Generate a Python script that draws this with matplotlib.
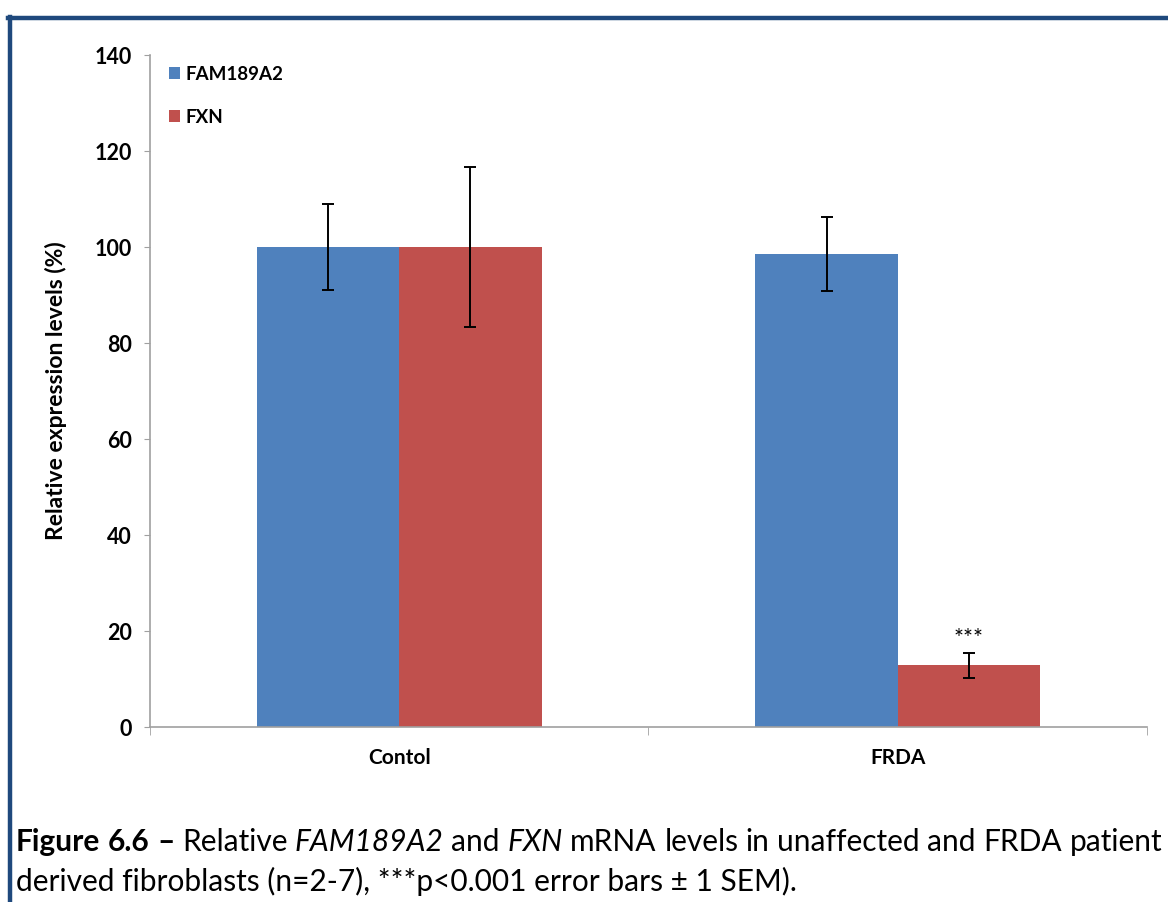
import matplotlib
matplotlib.use("Agg")
import matplotlib.pyplot as plt
from matplotlib.patches import Patch
from matplotlib.lines import Line2D
import numpy as np

# Data
categories = ["Contol", "FRDA"]
series_names = ["FAM189A2", "FXN"]
fam_values = [100.0, 98.5]
fam_sem = [9.0, 7.7]
fxn_values = [100.0, 12.9]
fxn_sem = [16.6, 2.6]
y_ticks = [0, 20, 40, 60, 80, 100, 120, 140]

BLUE = "#4F81BD"
RED = "#C0504D"
FRAME = "#1F497D"
FONT = ["Lato", "DejaVu Sans"]

plt.rcParams["font.family"] = FONT

fig = plt.figure(figsize=(11.68, 9.02), dpi=100)
ax = fig.add_axes([0.1284, 0.194, 0.982 - 0.1284, 0.939 - 0.194])

x = np.arange(len(categories))
w = 1 / 1.75 / 2
ax.bar(x - w / 2, fam_values, width=w, color=BLUE, edgecolor="none", zorder=2)
ax.bar(x + w / 2, fxn_values, width=w, color=RED, edgecolor="none", zorder=2)
ax.errorbar(x - w / 2, fam_values, yerr=fam_sem, fmt="none", ecolor="black",
            elinewidth=1.4, capsize=4.5, capthick=1.4, zorder=3)
ax.errorbar(x + w / 2, fxn_values, yerr=fxn_sem, fmt="none", ecolor="black",
            elinewidth=1.4, capsize=4.5, capthick=1.4, zorder=3)

# significance marker above the FRDA FXN bar
ax.text(x[1] + w / 2, fxn_values[1] + fxn_sem[1] + 3.0, "***",
        ha="center", va="center", fontsize=17)

ax.set_xlim(-0.5, 1.5)
ax.set_ylim(0, 140)
ax.set_yticks(y_ticks)
ax.set_yticklabels([str(t) for t in y_ticks], fontweight="bold", fontsize=15.5)
ax.set_xticks(x)
ax.set_xticklabels(categories, fontweight="bold", fontsize=15)
ax.tick_params(axis="x", length=0, pad=15)
ax.tick_params(axis="y", length=4, color="#A0A0A0", direction="out", pad=9)
# category boundary ticks on x axis
ax.set_xticks([-0.5, 0.5, 1.5], minor=True)
ax.tick_params(axis="x", which="minor", length=6, color="#A0A0A0", direction="out")

for side in ["top", "right"]:
    ax.spines[side].set_visible(False)
for side in ["left", "bottom"]:
    ax.spines[side].set_color("#A0A0A0")
    ax.spines[side].set_linewidth(1.2)

ax.set_ylabel("Relative expression levels (%)", fontweight="bold", fontsize=16.5,
              labelpad=20)

handles = [Patch(facecolor=BLUE, edgecolor="none"), Patch(facecolor=RED, edgecolor="none")]
leg = ax.legend(handles, series_names, loc="upper left", bbox_to_anchor=(0.0, 1.012),
                frameon=False, handlelength=0.62, handleheight=0.62, handletextpad=0.25,
                labelspacing=1.4, prop={"weight": "bold", "size": 13.5}, borderaxespad=0.6)

# frame lines around the figure block
fig.add_artist(Line2D([8 / 1168, 1.0], [1 - 18 / 902, 1 - 18 / 902], color=FRAME,
                      linewidth=3.2, transform=fig.transFigure))
fig.add_artist(Line2D([10 / 1168, 10 / 1168], [1 - 17 / 902, 0.0], color=FRAME,
                      linewidth=3.2, transform=fig.transFigure))

# caption, first line justified across the width
fig.canvas.draw()
renderer = fig.canvas.get_renderer()
cap_size = 21.5
line1 = [("Figure", "bold", "normal"), ("6.6", "bold", "normal"), ("\u2013", "bold", "normal"),
         ("Relative", "normal", "normal"), ("FAM189A2", "normal", "italic"),
         ("and", "normal", "normal"), ("FXN", "normal", "italic"), ("mRNA", "normal", "normal"),
         ("levels", "normal", "normal"), ("in", "normal", "normal"),
         ("unaffected", "normal", "normal"), ("and", "normal", "normal"),
         ("FRDA", "normal", "normal"), ("patient", "normal", "normal")]
x_left, x_right = 16 / 1168, 1162 / 1168
y1 = 1 - 842 / 902
texts = []
widths = []
for word, weight, style in line1:
    t = fig.text(0, y1, word, fontsize=cap_size, fontweight=weight, fontstyle=style,
                 va="center", ha="left")
    bb = t.get_window_extent(renderer)
    texts.append(t)
    widths.append(bb.width / fig.bbox.width)
gap = max((x_right - x_left - sum(widths)) / (len(texts) - 1), 2 / 1168)
pos = x_left
for t, wd in zip(texts, widths):
    t.set_x(pos)
    pos += wd + gap

fig.text(x_left, 1 - 881 / 902,
         "derived fibroblasts (n=2-7), ***p<0.001 error bars \u00b1 1 SEM).",
         fontsize=cap_size, va="center", ha="left")

fig.savefig("out.png", dpi=100)
